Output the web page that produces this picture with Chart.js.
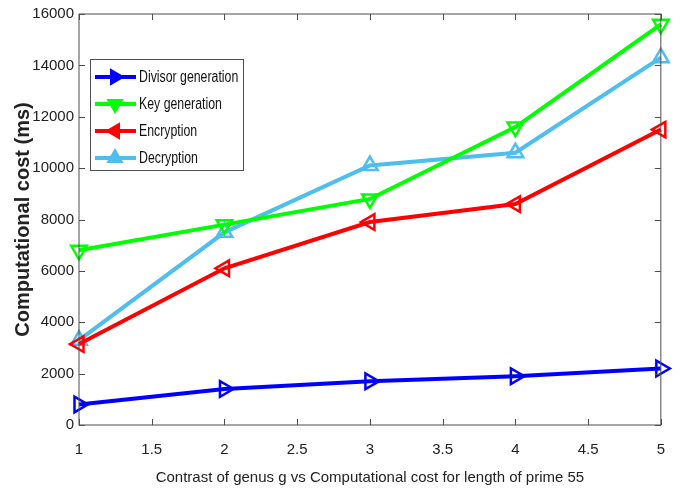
<!DOCTYPE html>
<html lang="en">
<head>
  <meta charset="UTF-8">
  <title>Computational cost</title>
  <script src="https://cdn.jsdelivr.net/npm/chart.js"></script>
  <style>
    html, body { margin: 0; padding: 0; background: #fff; }
    #wrap { width: 681px; height: 494px; }
  </style>
</head>
<body>
<div id="wrap"><canvas id="costChart" width="681" height="494"></canvas></div>
<script>
  // values
  const genus = [1, 2, 3, 4, 5];
  const divisorGen = [800, 1400, 1700, 1900, 2200];
  const keyGen = [6800, 7800, 8800, 11600, 15600];
  const encryption = [3150, 6100, 7900, 8600, 11500];
  const decryption = [3300, 7500, 10100, 10600, 14300];
  const xTicks = [1, 1.5, 2, 2.5, 3, 3.5, 4, 4.5, 5];
  const yTicks = [0, 2000, 4000, 6000, 8000, 10000, 12000, 14000, 16000];

  const FONT = "'Liberation Sans', Arial, sans-serif";
  const AXIS = '#4d4d4d';

  function pts(vals) {
    return genus.map((g, i) => ({ x: g, y: vals[i] }));
  }

  function series(label, vals, color, rot) {
    return {
      label: label,
      data: pts(vals),
      borderColor: color,
      backgroundColor: color,
      borderWidth: 4,
      pointStyle: 'triangle',
      rotation: rot,
      pointRadius: 9,
      pointBorderWidth: 2.5,
      pointBackgroundColor: 'rgba(255,255,255,0)',
      pointBorderColor: color,
      clip: false
    };
  }

  // inward ticks on all four sides + frame
  const frameTicks = {
    id: 'frameTicks',
    afterDraw(chart) {
      const { ctx, chartArea: a, scales } = chart;
      ctx.save();
      ctx.strokeStyle = AXIS;
      ctx.lineWidth = 1;
      ctx.strokeRect(a.left, a.top, a.right - a.left, a.bottom - a.top);
      const len = 6;
      ctx.beginPath();
      xTicks.forEach(v => {
        const px = Math.round(scales.x.getPixelForValue(v)) + 0.5;
        ctx.moveTo(px, a.bottom); ctx.lineTo(px, a.bottom - len);
        ctx.moveTo(px, a.top); ctx.lineTo(px, a.top + len);
      });
      yTicks.forEach(v => {
        const py = Math.round(scales.y.getPixelForValue(v)) + 0.5;
        ctx.moveTo(a.left, py); ctx.lineTo(a.left + len, py);
        ctx.moveTo(a.right, py); ctx.lineTo(a.right - len, py);
      });
      ctx.stroke();
      ctx.restore();
    }
  };

  // legend box drawn inside the plot
  const innerLegend = {
    id: 'innerLegend',
    afterDraw(chart) {
      const ctx = chart.ctx;
      const bx = 90, by = 59, bw = 153, bh = 111;
      ctx.save();
      ctx.fillStyle = '#fff';
      ctx.fillRect(bx, by, bw, bh);
      ctx.strokeStyle = AXIS;
      ctx.lineWidth = 1;
      ctx.strokeRect(bx + 0.5, by + 0.5, bw, bh);
      ctx.textBaseline = 'middle';
      chart.data.datasets.forEach((ds, i) => {
        const y = 77 + i * 27;
        ctx.strokeStyle = ds.borderColor;
        ctx.lineWidth = 4;
        ctx.beginPath();
        ctx.moveTo(95, y); ctx.lineTo(136, y);
        ctx.stroke();
        ctx.save();
        ctx.translate(115, y);
        ctx.rotate(ds.rotation * Math.PI / 180);
        ctx.fillStyle = ds.borderColor;
        ctx.beginPath();
        ctx.moveTo(0, -10); ctx.lineTo(8.7, 5); ctx.lineTo(-8.7, 5);
        ctx.closePath();
        ctx.fill();
        ctx.restore();
        // narrow lettering like the original
        ctx.save();
        ctx.translate(139, y + 1);
        ctx.scale(0.77, 1);
        ctx.font = '16px ' + FONT;
        ctx.fillStyle = '#111';
        ctx.fillText(ds.label, 0, 0);
        ctx.restore();
      });
      ctx.restore();
    }
  };

  new Chart(document.getElementById('costChart'), {
    type: 'line',
    data: {
      datasets: [
        series('Divisor generation', divisorGen, '#0000ff', 90),
        series('Key generation', keyGen, '#00ff00', 180),
        series('Encryption', encryption, '#ff0000', 270),
        series('Decryption', decryption, '#4dbeee', 0)
      ]
    },
    options: {
      responsive: false,
      animation: false,
      layout: { padding: { top: 14, right: 18, left: 0, bottom: 0 } },
      plugins: { legend: { display: false }, tooltip: { enabled: false } },
      scales: {
        x: {
          type: 'linear', min: 1, max: 5,
          afterBuildTicks(s) { s.ticks = xTicks.map(v => ({ value: v })); },
          grid: { display: false, drawTicks: false },
          border: { display: false },
          ticks: { color: '#222', font: { family: FONT, size: 15 }, padding: 16, maxRotation: 0,
                   callback: v => String(v) },
          title: { display: true, text: 'Contrast of genus g vs Computational cost for length of prime 55',
                   color: '#222', font: { family: FONT, size: 15 }, padding: { top: 4, bottom: 7 } },
          afterFit(s) { s.height = 69; }
        },
        y: {
          min: 0, max: 16000,
          afterBuildTicks(s) { s.ticks = yTicks.map(v => ({ value: v })); },
          grid: { display: false, drawTicks: false },
          border: { display: false },
          ticks: { color: '#222', font: { family: FONT, size: 15 }, padding: 5, callback: v => String(v) },
          title: { display: true, text: 'Computational cost (ms)', color: '#222',
                   font: { family: FONT, size: 20, weight: 'bold' }, padding: { top: 11, bottom: 0 } },
          afterFit(s) { s.width = 79; }
        }
      }
    },
    plugins: [frameTicks, innerLegend]
  });
</script>
</body>
</html>
